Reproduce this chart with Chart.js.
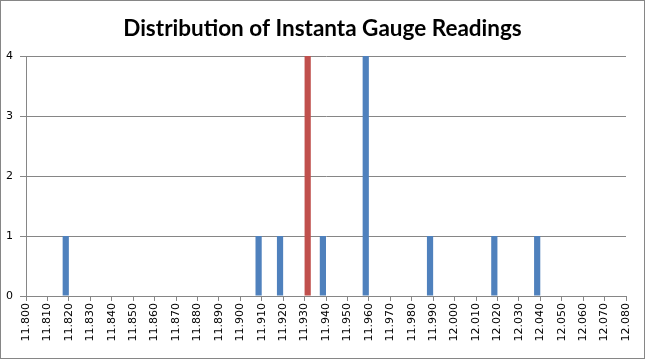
<!DOCTYPE html>
<html>
<head>
<meta charset="utf-8">
<script src="https://cdn.jsdelivr.net/npm/chart.js@4/dist/chart.umd.min.js"></script>
<style>
  html, body { margin: 0; padding: 0; background: #fff; }
  #wrap { width: 645px; height: 359px; box-sizing: border-box; border: 1px solid #868686; }
  canvas { display: block; }
</style>
</head>
<body>
<div id="wrap"><canvas id="chart" width="643" height="357"></canvas></div>
<script>
// gauge reading bins (x axis labels)
const readings = ['11.800', '11.810', '11.820', '11.830', '11.840', '11.850', '11.860', '11.870',
    '11.880', '11.890', '11.900', '11.910', '11.920', '11.930', '11.940', '11.950', '11.960',
    '11.970', '11.980', '11.990', '12.000', '12.010', '12.020', '12.030', '12.040', '12.050',
    '12.060', '12.070', '12.080'];

// counts per bin
const otherCounts =  [0, 0, 1, 0, 0, 0, 0, 0, 0, 0, 0, 1, 1, 0, 1, 0, 4, 0, 0, 1, 0, 0, 1, 0, 1, 0, 0, 0, 0];
const targetCounts = [0, 0, 0, 0, 0, 0, 0, 0, 0, 0, 0, 0, 0, 4, 0, 0, 0, 0, 0, 0, 0, 0, 0, 0, 0, 0, 0, 0, 0];

const yTicks = [0, 1, 2, 3, 4];

const gridGray = '#868686';

const ctx = document.getElementById('chart').getContext('2d');
const chart = new Chart(ctx, {
    type: 'bar',
    data: {
        labels: readings,
        datasets: [{
            label: 'Readings',
            data: otherCounts,
            backgroundColor: '#4F81BD'
        }, {
            label: 'Target',
            data: targetCounts,
            backgroundColor: '#C0504D'
        }]
    },
    options: {
        responsive: false,
        animation: false,
        categoryPercentage: 0.58,
        barPercentage: 1.0,
        layout: { padding: 0 },
        plugins: {
            legend: { display: false },
            tooltip: { enabled: false },
            title: {
                display: true,
                text: 'Distribution of Instanta Gauge Readings',
                color: '#000',
                font: { family: 'Lato', size: 22.5, weight: 'bold' },
                padding: { top: 14, bottom: 14 }
            }
        },
        scales: {
            x: {
                offset: false,
                grid: {
                    display: true,
                    drawOnChartArea: false,
                    drawTicks: true,
                    tickLength: 5,
                    color: gridGray,
                    offset: false
                },
                border: { display: true, color: gridGray },
                ticks: {
                    color: '#000',
                    font: { family: 'DejaVu Sans', size: 11 },
                    minRotation: 90,
                    maxRotation: 90,
                    autoSkip: false,
                    padding: 2
                },
                afterFit: scale => { scale.height = 62; }
            },
            y: {
                min: 0,
                max: 4,
                afterBuildTicks: scale => { scale.ticks = yTicks.map(v => ({ value: v })); },
                grid: {
                    color: gridGray,
                    drawTicks: true,
                    tickLength: 6
                },
                border: { display: true, color: gridGray },
                ticks: {
                    color: '#000',
                    font: { family: 'DejaVu Sans', size: 11 },
                    padding: 7
                },
                afterFit: scale => { scale.width = 25; }
            },
            // empty right-hand spacer so the title stays centred on the whole chart
            yRight: {
                position: 'right',
                min: 0,
                max: 4,
                grid: { drawOnChartArea: false, drawTicks: false },
                border: { display: false },
                ticks: { display: false },
                afterFit: scale => { scale.width = 18; }
            }
        }
    }
});
</script>
</body>
</html>
